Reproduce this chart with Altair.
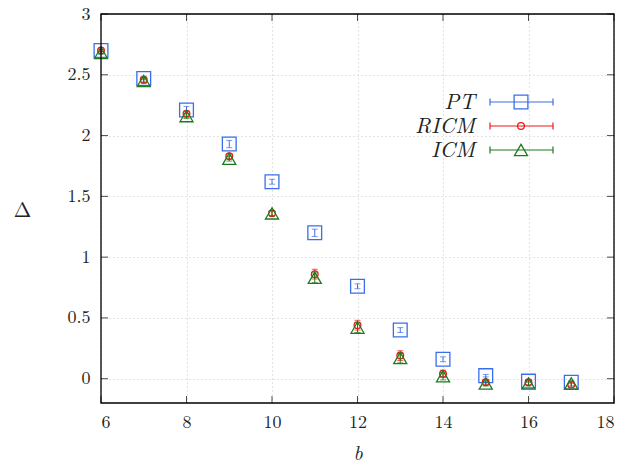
import altair as alt
import pandas as pd

# b values and Delta estimates for the three methods
b_vals = [6, 7, 8, 9, 10, 11, 12, 13, 14, 15, 16, 17]
pt_vals = [2.70, 2.47, 2.21, 1.93, 1.62, 1.20, 0.76, 0.40, 0.16, 0.025, -0.02, -0.03]
pt_err = [0.01, 0.01, 0.03, 0.03, 0.02, 0.03, 0.02, 0.02, 0.02, 0.01, 0.01, 0.01]
ricm_vals = [2.70, 2.46, 2.18, 1.83, 1.36, 0.86, 0.44, 0.19, 0.04, -0.03, -0.03, -0.05]
ricm_err = [0.01, 0.02, 0.02, 0.02, 0.02, 0.04, 0.04, 0.04, 0.03, 0.02, 0.02, 0.02]
icm_vals = [2.68, 2.45, 2.16, 1.81, 1.36, 0.83, 0.42, 0.17, 0.02, -0.04, -0.04, -0.04]
icm_err = [0.01, 0.02, 0.02, 0.02, 0.02, 0.04, 0.04, 0.04, 0.03, 0.02, 0.02, 0.02]

series_names = ["PT", "RICM", "ICM"]
series_colors = ["#3a6ee8", "#f01818", "#1e7a1e"]
series_shapes = ["square", "circle", "triangle-up"]
series_sizes = [190, 45, 170]

x_ticks = [6, 8, 10, 12, 14, 16, 18]
y_ticks = [0, 0.5, 1, 1.5, 2, 2.5, 3]

FONT = "'Latin Modern Roman', 'DejaVu Serif', serif"
W, H = 513, 389

x_scale = alt.Scale(domain=[6, 18], nice=False, zero=False)
y_scale = alt.Scale(domain=[-0.2, 3], nice=False, zero=False)

x_enc = alt.X("b:Q", scale=x_scale,
              axis=alt.Axis(values=x_ticks, title="b", titleFont=FONT, titleFontStyle="italic",
                            titleFontWeight="normal", titleFontSize=20, titlePadding=12,
                            labelFont=FONT, labelFontSize=18, labelColor="#222", titleColor="#222",
                            ticks=False, domain=False, labelPadding=10, format="~g",
                            grid=True, gridDash=[1, 3], gridColor="#c8c8c8"))
y_enc = alt.Y("v:Q", scale=y_scale,
              axis=alt.Axis(values=y_ticks, title="Δ", titleFont=FONT, titleFontSize=21,
                            titleFontWeight="normal", titleAngle=0, titleColor="#222",
                            titleX=-79, titleY=206, labelFont=FONT, labelFontSize=18,
                            labelColor="#222", ticks=False, domain=False, labelPadding=11,
                            format="~g",
                            grid=True, gridDash=[1, 3], gridColor="#c8c8c8"))

layers = []

# Inward tick marks on all four sides of the frame
xt = pd.DataFrame({"b": x_ticks})
yt = pd.DataFrame({"v": y_ticks})
layers.append(alt.Chart(xt).mark_tick(orient="vertical", size=7, thickness=1, color="black",
                                      yOffset=-3.5).encode(x=x_enc, y=alt.datum(-0.2, scale=y_scale)))
layers.append(alt.Chart(xt).mark_tick(orient="vertical", size=7, thickness=1, color="black",
                                      yOffset=3.5).encode(x=x_enc, y=alt.datum(3)))
layers.append(alt.Chart(yt).mark_tick(orient="horizontal", size=7, thickness=1, color="black",
                                      xOffset=3.5).encode(y=y_enc, x=alt.datum(6)))
layers.append(alt.Chart(yt).mark_tick(orient="horizontal", size=7, thickness=1, color="black",
                                      xOffset=-3.5).encode(y=y_enc, x=alt.datum(18)))

all_vals = [pt_vals, ricm_vals, icm_vals]
all_errs = [pt_err, ricm_err, icm_err]

for name, vals, errs, color, shape, size in zip(series_names, all_vals, all_errs,
                                                 series_colors, series_shapes, series_sizes):
    df = pd.DataFrame({"b": b_vals, "v": vals, "e": errs})
    df["lo"] = df["v"] - df["e"]
    df["hi"] = df["v"] + df["e"]
    base = alt.Chart(df)
    layers.append(base.mark_rule(color=color, strokeWidth=1).encode(
        x=x_enc, y=alt.Y("lo:Q", scale=y_scale), y2="hi:Q"))
    layers.append(base.mark_tick(orient="horizontal", size=6, thickness=1, color=color).encode(
        x=x_enc, y=alt.Y("lo:Q", scale=y_scale)))
    layers.append(base.mark_tick(orient="horizontal", size=6, thickness=1, color=color).encode(
        x=x_enc, y=alt.Y("hi:Q", scale=y_scale)))
    layers.append(base.mark_point(shape=shape, size=size, filled=False, color=color,
                                  strokeWidth=1.3, opacity=1).encode(x=x_enc, y=y_enc))

# Key in the upper right corner
one = pd.DataFrame({"k": [0]})
for i, (name, color, shape, size) in enumerate(zip(series_names, series_colors,
                                                    series_shapes, series_sizes)):
    yy = 88 + 24 * i
    c = alt.Chart(one)
    layers.append(c.mark_text(text=name, font=FONT, fontSize=22, fontStyle="italic",
                              align="right", baseline="middle", color="#222").encode(
        x=alt.value(374), y=alt.value(yy)))
    layers.append(c.mark_rule(color=color, strokeWidth=1.2).encode(
        x=alt.value(389), x2=alt.value(452), y=alt.value(yy)))
    layers.append(c.mark_rule(color=color, strokeWidth=1.2).encode(
        x=alt.value(389), y=alt.value(yy - 3.5), y2=alt.value(yy + 3.5)))
    layers.append(c.mark_rule(color=color, strokeWidth=1.2).encode(
        x=alt.value(452), y=alt.value(yy - 3.5), y2=alt.value(yy + 3.5)))
    layers.append(c.mark_point(shape=shape, size=size, filled=False, color=color,
                               strokeWidth=1.3, opacity=1).encode(
        x=alt.value(420), y=alt.value(yy)))

# Solid frame drawn over the grid
frame = pd.DataFrame({"x0": [6], "x1": [18], "y0": [-0.2], "y1": [3]})
layers.append(alt.Chart(frame).mark_rect(fill=None, filled=False, stroke="black",
                                         strokeWidth=1.3).encode(
    x=alt.X("x0:Q", scale=x_scale), x2="x1:Q",
    y=alt.Y("y0:Q", scale=y_scale), y2="y1:Q"))

chart = alt.layer(*layers).properties(
    width=W, height=H,
    autosize=alt.AutoSizeParams(type="none"),
    padding={"left": 101, "top": 14, "right": 14, "bottom": 70},
    background="white",
).configure_view(stroke=None)

chart.save("out.html", embed_options={"renderer": "svg", "actions": False})
